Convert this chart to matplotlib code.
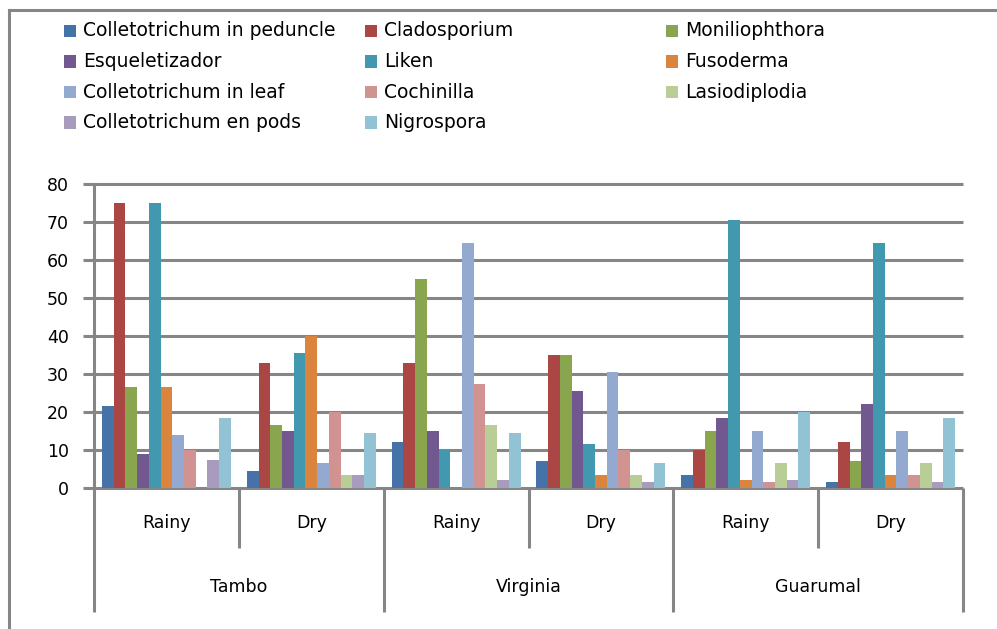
import matplotlib.pyplot as plt
from matplotlib.lines import Line2D
from matplotlib.patches import Rectangle
import numpy as np

# データ
sites = ['Tambo', 'Virginia', 'Guarumal']
seasons = ['Rainy', 'Dry']
series_names = ['Colletotrichum in peduncle', 'Cladosporium', 'Moniliophthora',
                'Esqueletizador', 'Liken', 'Fusoderma',
                'Colletotrichum in leaf', 'Cochinilla', 'Lasiodiplodia',
                'Colletotrichum en pods', 'Nigrospora']
colors = ['#4572A7', '#AA4643', '#89A54E', '#71588F', '#4198AF', '#DB843D',
          '#93A9CF', '#D19392', '#B9CD96', '#A99BBD', '#92C3D4']

# 各カテゴリ: Tambo Rainy, Tambo Dry, Virginia Rainy, Virginia Dry, Guarumal Rainy, Guarumal Dry
peduncle = [21.5, 4.5, 12, 7, 3.5, 1.5]
clado = [75, 33, 33, 35, 10, 12]
monil = [26.5, 16.5, 55, 35, 15, 7]
esq = [9, 15, 15, 25.5, 18.5, 22]
liken = [75, 35.5, 10, 11.5, 70.5, 64.5]
fusod = [26.5, 40, 0, 3.5, 2, 3.5]
cleaf = [14, 6.5, 64.5, 30.5, 15, 15]
cochin = [10, 20, 27.5, 10, 1.5, 3.5]
lasio = [0, 3.5, 16.5, 3.5, 6.5, 6.5]
cpods = [7.5, 3.5, 2, 1.5, 2, 1.5]
nigro = [18.5, 14.5, 14.5, 6.5, 20, 18.5]
values = [peduncle, clado, monil, esq, liken, fusod, cleaf, cochin, lasio, cpods, nigro]

W, H = 997, 629
gray = '#868686'
lw = 2.2

fig = plt.figure(figsize=(W / 100, H / 100), dpi=100)
plt.rcParams['font.family'] = ['DejaVu Sans']

# 外枠 (左と上)
fig.add_artist(Line2D([9 / W, 9 / W], [0, 1 - 10 / H], transform=fig.transFigure, color=gray, lw=lw))
fig.add_artist(Line2D([9 / W, 1], [1 - 10 / H, 1 - 10 / H], transform=fig.transFigure, color=gray, lw=lw))

# 凡例 (手動)
for i, name in enumerate(series_names):
    cx = 64 + 301 * (i % 3)
    cy = 31 + 30.5 * (i // 3)
    fig.add_artist(Rectangle((cx / W, 1 - (cy + 6) / H), 12 / W, 12 / H,
                             transform=fig.transFigure, color=colors[i], lw=0))
    fig.text((cx + 19) / W, 1 - cy / H, name, fontsize=13.5, va='center', ha='left')

# グラフ本体
ax = fig.add_axes([94 / W, 141 / H, 869 / W, 304 / H])
ncat = len(peduncle)
x = np.arange(ncat) + 0.5
group = 0.89
bw = group / len(values)
for i, vals in enumerate(values):
    ax.bar(x - group / 2 + bw * (i + 0.5), vals, bw, color=colors[i], lw=0, zorder=3)

ax.set_xlim(0, ncat)
ax.set_ylim(0, 80)
yt = np.arange(0, 81, 10)
ax.set_yticks(yt)
ax.hlines(yt, 0, ncat, color=gray, lw=lw, clip_on=False, zorder=1)
ax.tick_params(axis='y', length=8, width=lw, color=gray, pad=10, labelsize=12.5)
ax.set_xticks([])
for s in ['top', 'right', 'bottom']:
    ax.spines[s].set_visible(False)
ax.spines['left'].set_color(gray)
ax.spines['left'].set_linewidth(lw)

# 多段カテゴリ軸
tr = ax.get_xaxis_transform()
for k in range(ncat + 1):
    bottom = -0.408 if k % 2 == 0 else -0.197
    ax.plot([k, k], [0, bottom], transform=tr, color=gray, lw=lw, clip_on=False,
            solid_capstyle='butt')
for k in range(ncat):
    ax.text(k + 0.5, -0.115, seasons[k % 2], transform=tr, ha='center', va='center', fontsize=12.5)
for j, site in enumerate(sites):
    ax.text(2 * j + 1, -0.326, site, transform=tr, ha='center', va='center', fontsize=12.5)

plt.savefig('out.png', dpi=100)
